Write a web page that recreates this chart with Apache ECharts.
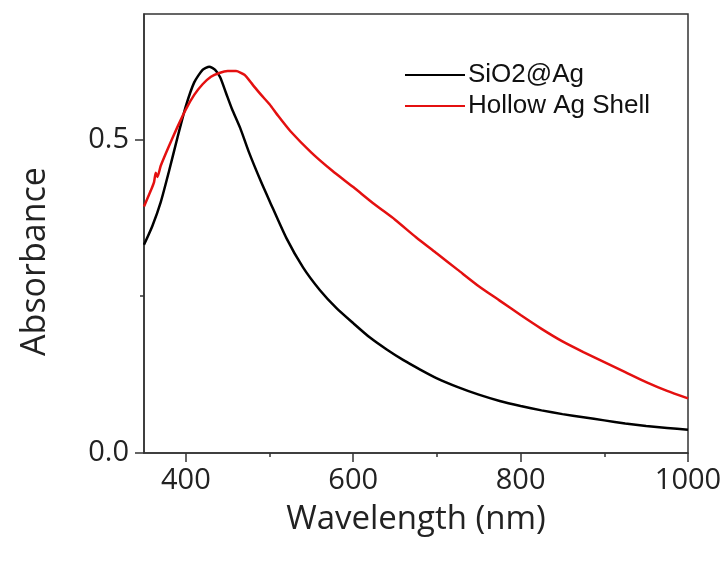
<!DOCTYPE html>
<html>
<head>
<meta charset="utf-8">
<script src="https://cdn.jsdelivr.net/npm/echarts@6/dist/echarts.min.js"></script>
<style>html,body{margin:0;padding:0;background:#fff;}#c{width:726px;height:562px;}</style>
</head>
<body>
<div id="c"></div>
<script>
// Wavelength (nm) and absorbance
const sio2Wl = [350,360,370,380,390,400,410,420,428,435,441,448,455,465,475,490,500,520,540,560,580,600,620,640,660,680,700,725,750,775,800,825,850,875,900,925,950,975,1000];
const sio2Abs = [0.332,0.362,0.400,0.450,0.503,0.553,0.591,0.611,0.616,0.611,0.599,0.574,0.549,0.518,0.481,0.432,0.402,0.343,0.296,0.260,0.231,0.207,0.184,0.165,0.148,0.133,0.119,0.105,0.093,0.083,0.075,0.068,0.062,0.057,0.052,0.047,0.043,0.040,0.037];
const hollowWl = [350,358,362,364,366,370,380,390,400,410,420,430,440,450,460,470,480,490,500,510,525,550,575,600,625,650,675,700,725,750,775,800,825,850,875,900,925,950,975,1000];
const hollowAbs = [0.393,0.418,0.432,0.447,0.440,0.458,0.490,0.520,0.548,0.571,0.588,0.600,0.606,0.609,0.609,0.603,0.587,0.571,0.556,0.538,0.513,0.479,0.450,0.424,0.397,0.372,0.344,0.318,0.292,0.266,0.243,0.220,0.198,0.178,0.161,0.145,0.129,0.113,0.099,0.087];
const xMajor = [400,600,800,1000];
const xMinor = [500,700,900];
const yMajor = [0,0.5];
const yMinor = [0.25];
const seriesNames = ['SiO2@Ag','Hollow Ag Shell'];

const pair = (xs, ys) => xs.map((x, i) => [x, ys[i]]);
const axisColor = '#333';
const chart = echarts.init(document.getElementById('c'));
chart.setOption({
  animation: false,
  backgroundColor: '#fff',
  grid: {left: 144, right: 38, top: 14, bottom: 109, show: true, borderColor: axisColor, borderWidth: 1.5, backgroundColor: 'transparent'},
  legend: {
    orient: 'vertical', left: 400, top: 57, itemWidth: 60, itemHeight: 2, icon: 'rect', itemGap: 5,
    textStyle: {fontFamily: 'Liberation Sans', fontSize: 26, color: '#111', lineHeight: 26, padding: [0,0,0,-2]},
    data: seriesNames
  },
  xAxis: [{
    type: 'value', min: 350, max: 1000,
    axisLine: {show: true, lineStyle: {color: axisColor, width: 1.5}},
    axisTick: {show: true, customValues: xMajor, length: 9, lineStyle: {color: axisColor, width: 1.5}},
    axisLabel: {customValues: xMajor, margin: 13, fontFamily: 'Open Sans', fontSize: 29, color: '#222', formatter: v => String(v)},
    splitLine: {show: false},
    name: 'Wavelength (nm)', nameLocation: 'middle', nameGap: 50,
    nameTextStyle: {fontFamily: 'Open Sans', fontSize: 33, color: '#222'}
  }, {
    type: 'value', min: 350, max: 1000, position: 'bottom', gridIndex: 0,
    axisLine: {show: false},
    axisTick: {show: true, customValues: xMinor, length: 4, lineStyle: {color: axisColor, width: 1.5}},
    axisLabel: {show: false}, splitLine: {show: false}
  }],
  yAxis: [{
    type: 'value', min: 0, max: 0.7,
    axisLine: {show: true, lineStyle: {color: axisColor, width: 1.5}},
    axisTick: {show: true, customValues: yMajor, length: 9, lineStyle: {color: axisColor, width: 1.5}},
    axisLabel: {customValues: yMajor, margin: 15, fontFamily: 'Open Sans', fontSize: 29, color: '#222', formatter: v => v.toFixed(1)},
    splitLine: {show: false},
    name: 'Absorbance', nameLocation: 'middle', nameGap: 92, nameRotate: 90,
    nameTextStyle: {fontFamily: 'Open Sans', fontSize: 34, color: '#222', padding: [0, 56, 0, 0]}
  }, {
    type: 'value', min: 0, max: 0.7, position: 'left', gridIndex: 0,
    axisLine: {show: false},
    axisTick: {show: true, customValues: yMinor, length: 4, lineStyle: {color: axisColor, width: 1.5}},
    axisLabel: {show: false}, splitLine: {show: false}
  }],
  series: [{
    name: seriesNames[0], type: 'line', data: pair(sio2Wl, sio2Abs), showSymbol: false, symbol: 'none',
    lineStyle: {color: '#000', width: 2.5}, itemStyle: {color: '#000'}, smooth: 0.2
  }, {
    name: seriesNames[1], type: 'line', data: pair(hollowWl, hollowAbs), showSymbol: false, symbol: 'none',
    lineStyle: {color: '#e41010', width: 2.5}, itemStyle: {color: '#e41010'}, smooth: 0.2
  }]
});
</script>
</body>
</html>
